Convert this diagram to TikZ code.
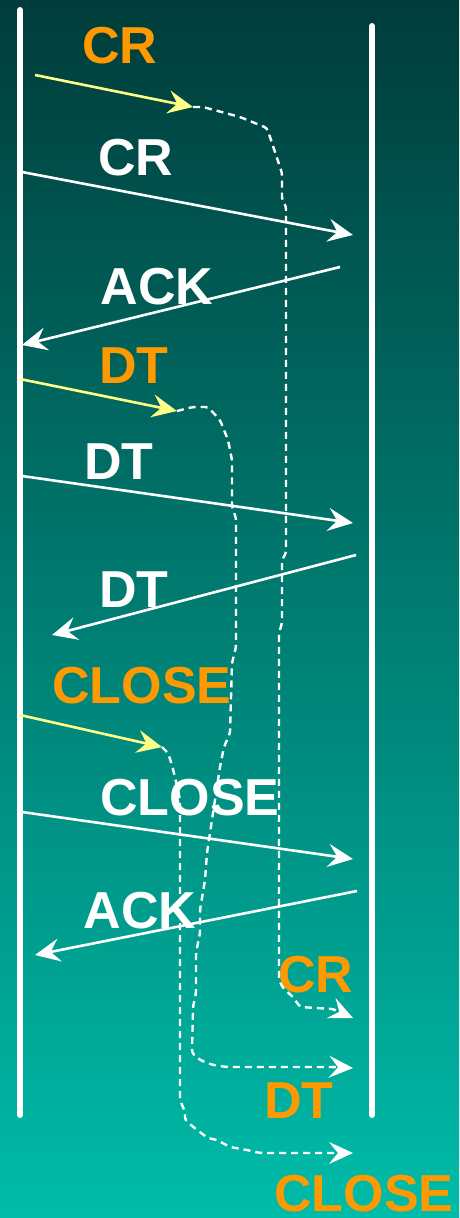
\documentclass[tikz,border=0pt]{standalone}
\usepackage{fontspec}
\setmainfont{Liberation Sans}
\usepackage{xcolor}
\usepackage{tikz}
\usetikzlibrary{arrows.meta}

\definecolor{bgtop}{HTML}{003C3A}
\definecolor{bgmid}{HTML}{008F80}
\definecolor{bgbot}{HTML}{00BCA9}
\definecolor{tpdu}{HTML}{FF9900}
\definecolor{prim}{HTML}{FFFF88}

\tikzset{
  lbl/.style={anchor=base,inner sep=0pt,font=\fontsize{52}{52}\selectfont\bfseries},
  life/.style={white,line width=6pt,line cap=round},
  msg/.style={white,line width=2.6pt,-{Stealth[length=25pt,width=23pt,inset=9pt]}},
  req/.style={msg,prim},
  flow/.style={white,line width=2.4pt,dash pattern=on 7pt off 5pt,rounded corners=3pt,
    -{Stealth[length=24pt,width=22pt,inset=9pt]}}
}

\begin{document}
\begin{tikzpicture}[x=1pt,y=-1pt]
% Background
\useasboundingbox (0,0) rectangle (459,1218);
\shade[top color=bgtop,middle color=bgmid,bottom color=bgbot] (0,0) rectangle (459,1218);

% Labels
\node[lbl,tpdu] (crA) at (120,63) {CR};
\node[lbl,white] (crB) at (136,175) {CR};
\node[lbl,white] (ackA) at (157,304) {ACK};
\node[lbl,tpdu] (dtA) at (134,383) {DT};
\node[lbl,white] (dtB) at (119,479) {DT};
\node[lbl,white] (dtC) at (134,607) {DT};
\node[lbl,tpdu] (clA) at (142,703) {CLOSE};
\node[lbl,white] (clB) at (190,815) {CLOSE};
\node[lbl,white] (ackB) at (140,928) {ACK};
\node[lbl,tpdu] (crC) at (316,992) {CR};
\node[lbl,tpdu] (dtD) at (299,1118) {DT};
\node[lbl,tpdu] (clC) at (364,1211) {CLOSE};

% Lifelines
\coordinate (Ltop) at (20,10);
\coordinate (Lbot) at (20,1115);
\coordinate (Rtop) at (372,26);
\coordinate (Rbot) at (372,1115);
\draw[life] (Ltop) -- (Lbot);
\draw[life] (Rtop) -- (Rbot);

% Messages
\coordinate (crY0) at (35,75);   \coordinate (crY1) at (193,107);
\coordinate (cr0) at (22,172);   \coordinate (cr1) at (353,235);
\coordinate (ack0) at (340,267); \coordinate (ack1) at (22,345);
\coordinate (dtY0) at (20,379);  \coordinate (dtY1) at (177,411);
\coordinate (dt0) at (22,476);   \coordinate (dt1) at (353,523);
\coordinate (dtb0) at (356,555); \coordinate (dtb1) at (52,635);
\coordinate (clY0) at (20,715);  \coordinate (clY1) at (162,747);
\coordinate (cl0) at (22,812);   \coordinate (cl1) at (353,859);
\coordinate (ackb0) at (357,891);\coordinate (ackb1) at (35,955);
\draw[req] (crY0) -- (crY1);
\draw[msg] (cr0) -- (cr1);
\draw[msg] (ack0) -- (ack1);
\draw[req] (dtY0) -- (dtY1);
\draw[msg] (dt0) -- (dt1);
\draw[msg] (dtb0) -- (dtb1);
\draw[req] (clY0) -- (clY1);
\draw[msg] (cl0) -- (cl1);
\draw[msg] (ackb0) -- (ackb1);

% Delivered indications
\coordinate (crR) at (353,1018);
\coordinate (dtR) at (353,1068);
\coordinate (clR) at (353,1153);
\draw[flow] (crY1) -- (203,107) -- (240,117) -- (267,128) -- (282,173) -- (282,200)
  -- (286,206) -- (286,553) -- (282,560) -- (282,623) -- (279,633) -- (279,980)
  -- (283,988) -- (293,997) -- (300,1007) -- (333,1009) -- (crR);
\draw[flow] (dtY1) -- (193,407) -- (208,407) -- (220,420) -- (228,440) -- (232,460)
  -- (232,507) -- (236,518) -- (236,647) -- (232,663) -- (230,733) -- (224,747)
  -- (220,767) -- (213,813) -- (207,853) -- (205,880) -- (200,910) -- (200,933)
  -- (196,953) -- (196,993) -- (193,1007) -- (192,1053) -- (200,1060) -- (213,1065)
  -- (227,1067) -- (333,1067) -- (dtR);
\draw[flow] (clY1) -- (168,753) -- (172,765) -- (178,790) -- (180,800) -- (180,1100)
  -- (185,1112) -- (185,1120) -- (197,1130) -- (208,1138) -- (217,1140) -- (230,1147)
  -- (247,1150) -- (260,1153) -- (clR);
\end{tikzpicture}
\end{document}
